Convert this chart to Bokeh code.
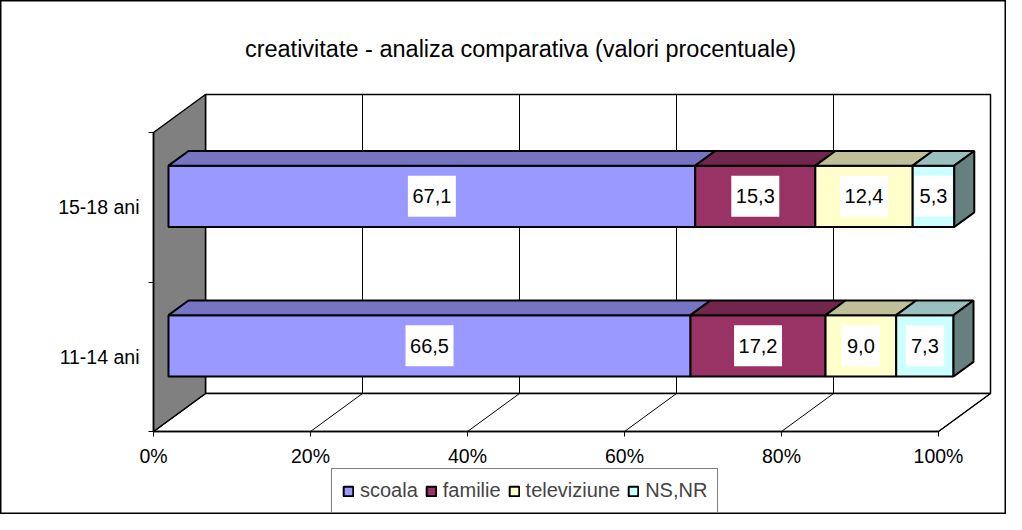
from bokeh.plotting import figure
from bokeh.models import (Range1d, LinearAxis, FixedTicker, PrintfTickFormatter,
                          Legend, LegendItem, ColumnDataSource)
from bokeh.embed import file_html
from bokeh.resources import INLINE
from bokeh.core.properties import value

# ---------------- data ----------------
categories = ["11-14 ani", "15-18 ani"]
series = ["scoala", "familie", "televiziune", "NS,NR"]
scoala = [66.5, 67.1]
familie = [17.2, 15.3]
televiziune = [9.0, 12.4]
ns_nr = [7.3, 5.3]
x_ticks = [0, 20, 40, 60, 80, 100]
title_text = "creativitate - analiza comparativa (valori procentuale)"

values = [scoala, familie, televiziune, ns_nr]
front_colors = ["#9999FF", "#993366", "#FFFFCC", "#CCFFFF"]
top_colors = ["#7575C4", "#73264D", "#BFBF99", "#99BFBF"]
side_colors = ["#4D4D80", "#4D1A33", "#80806A", "#668080"]

# ---------------- layout constants ----------------
W, H = 1006, 514
OX, OY = 153, 431          # pixel position of (0%, y=0) in the front plane
SX = 7.85                  # px per percent
SY = 149.5                 # px per category unit
DX = 52 / SX               # full depth offset in data units
DY = 38 / SY
F1, F2 = 15 / 52, 35 / 52  # bar front / back depth fractions
BAR_H = 0.41
FONT = "Liberation Sans"


def px_x(px):
    return (px - OX) / SX


def px_y(py):
    return (OY - py) / SY


p = figure(width=W, height=H, output_backend="svg", toolbar_location=None,
           x_range=Range1d(px_x(0), px_x(W)), y_range=Range1d(px_y(H), px_y(0)),
           x_axis_type=None, y_axis_type=None, min_border=0)
p.xgrid.visible = False
p.ygrid.visible = False
p.outline_line_color = "black"
p.outline_line_width = 2
p.background_fill_color = "white"
p.border_fill_color = "white"

ncat = len(categories)
xmax = x_ticks[-1]

# back wall
p.patch([DX, xmax + DX, xmax + DX, DX], [DY, DY, ncat + DY, ncat + DY],
        fill_color="white", line_color="black", line_width=1.5)
# floor
p.patch([0, xmax, xmax + DX, DX], [0, 0, DY, DY],
        fill_color="white", line_color="black", line_width=1.5)
# gridlines on back wall and floor
for t in x_ticks[1:-1]:
    p.line([t + DX, t + DX], [DY, ncat + DY], line_color="black", line_width=1)
for t in x_ticks:
    p.line([t, t + DX], [0, DY], line_color="black", line_width=1)
# left wall
p.patch([0, DX, DX, 0], [0, DY, ncat + DY, ncat], fill_color="#808080",
        line_color="black", line_width=1.5)

# bars
cum = [0.0] * ncat
legend_items = []
label_x, label_y, label_t, label_w = [], [], [], []
for s, vals in enumerate(values):
    lefts, rights, bottoms, tops = [], [], [], []
    txs, tys = [], []
    sxs, sys_ = [], []
    for i, v in enumerate(vals):
        c = i + 0.5
        L = cum[i] + F1 * DX
        R = cum[i] + v + F1 * DX
        B = c - BAR_H / 2 + F1 * DY
        T = c + BAR_H / 2 + F1 * DY
        dd, ddy = (F2 - F1) * DX, (F2 - F1) * DY
        lefts.append(L); rights.append(R); bottoms.append(B); tops.append(T)
        txs.append([L, R, R + dd, L + dd]); tys.append([T, T, T + ddy, T + ddy])
        if s == len(values) - 1:
            sxs.append([R, R, R + dd, R + dd]); sys_.append([B, T, T + ddy, B + ddy])
        txt = f"{v:.1f}".replace(".", ",")
        label_x.append((L + R) / 2); label_y.append((B + T) / 2)
        label_t.append(txt); label_w.append(len(txt) * 10 + 8)
        cum[i] += v
    r = p.quad(left=lefts, right=rights, bottom=bottoms, top=tops,
               fill_color=front_colors[s], line_color="black", line_width=2)
    p.patches(txs, tys, fill_color=top_colors[s], line_color="black", line_width=2)
    if sxs:
        p.patches(sxs, sys_, fill_color=side_colors[s], line_color="black", line_width=2)
    legend_items.append(LegendItem(label=series[s], renderers=[r]))

# data labels
lab = ColumnDataSource(dict(x=label_x, y=label_y, t=label_t, w=label_w))
p.rect(x="x", y="y", width="w", height=41, width_units="screen",
       height_units="screen", source=lab, fill_color="white", line_color=None)
p.text(x="x", y="y", text="t", source=lab, text_align="center",
       text_baseline="middle", text_font=value(FONT), text_font_size="20px",
       text_color="black")

# title
p.text(x=[px_x(520)], y=[px_y(48)], text=[title_text], text_align="center",
       text_baseline="alphabetic", text_font=value(FONT), text_font_size="23.5px",
       text_color="black")

# x axis (front floor edge)
xa = LinearAxis(fixed_location=0, bounds=(0, xmax),
                ticker=FixedTicker(ticks=x_ticks, minor_ticks=[]),
                formatter=PrintfTickFormatter(format="%d%%"))
xa.axis_line_color = "black"
xa.axis_line_width = 1.5
xa.major_tick_out = 5
xa.major_tick_in = 0
xa.major_label_standoff = 8
xa.major_label_text_font = FONT
xa.major_label_text_font_size = "19.5px"
xa.major_label_text_color = "black"
p.add_layout(xa, "below")

# y axis (front edge of the left wall)
ya = LinearAxis(fixed_location=0, bounds=(0, ncat),
                ticker=FixedTicker(ticks=[i + 0.5 for i in range(ncat)],
                                   minor_ticks=list(range(ncat + 1))),
                major_label_overrides={i + 0.5: c for i, c in enumerate(categories)})
ya.axis_line_color = "black"
ya.axis_line_width = 1.5
ya.major_tick_out = 0
ya.major_tick_in = 0
ya.minor_tick_out = 5
ya.minor_tick_in = 0
ya.minor_tick_line_color = "black"
ya.major_label_standoff = 9
ya.major_label_text_font = FONT
ya.major_label_text_font_size = "19.5px"
ya.major_label_text_color = "black"
ya.major_label_orientation = "horizontal"
p.add_layout(ya, "left")

legend = Legend(items=legend_items, orientation="horizontal",
                location=(331, 1), glyph_width=12, glyph_height=12,
                label_standoff=6, spacing=7, padding=10, margin=0,
                label_text_font=FONT, label_text_font_size="20px",
                label_height=20, border_line_color="black", border_line_width=1.5,
                background_fill_color="white", background_fill_alpha=1)
p.add_layout(legend)

open("out.html", "w").write(file_html(p, INLINE))
